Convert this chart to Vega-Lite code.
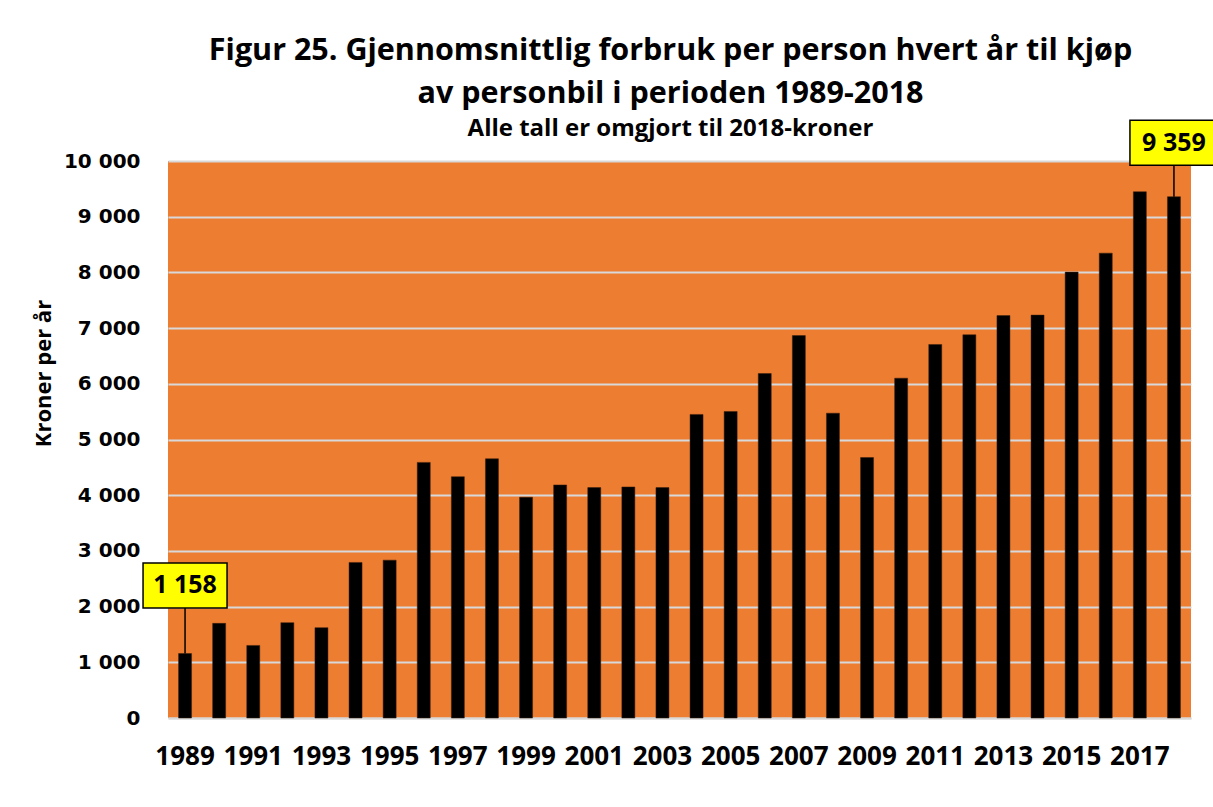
{
  "$schema": "https://vega.github.io/schema/vega-lite/v6.json",
  "autosize": {"type": "none"},
  "width": 1023,
  "height": 557,
  "padding": {"left": 168, "top": 161, "right": 22, "bottom": 89},
  "background": "white",
  "title": {
    "text": ["Figur 25. Gjennomsnittlig forbruk per person hvert år til kjøp", "av personbil i perioden 1989-2018"],
    "subtitle": "Alle tall er omgjort til 2018-kroner",
    "font": "Open Sans",
    "fontSize": 30.5,
    "fontWeight": "bold",
    "lineHeight": 43,
    "color": "black",
    "subtitleFont": "Open Sans",
    "subtitleFontSize": 24,
    "subtitleFontWeight": "bold",
    "subtitleColor": "black",
    "subtitlePadding": 8,
    "anchor": "middle",
    "frame": "group",
    "offset": -24,
    "dx": -9
  },
  "data": {
    "values": [
      {"year": "1989", "value": 1158},
      {"year": "1990", "value": 1699},
      {"year": "1991", "value": 1303},
      {"year": "1992", "value": 1712},
      {"year": "1993", "value": 1622},
      {"year": "1994", "value": 2793},
      {"year": "1995", "value": 2834},
      {"year": "1996", "value": 4589},
      {"year": "1997", "value": 4332},
      {"year": "1998", "value": 4654},
      {"year": "1999", "value": 3964},
      {"year": "2000", "value": 4184},
      {"year": "2001", "value": 4136},
      {"year": "2002", "value": 4148},
      {"year": "2003", "value": 4136},
      {"year": "2004", "value": 5450},
      {"year": "2005", "value": 5503},
      {"year": "2006", "value": 6185},
      {"year": "2007", "value": 6865},
      {"year": "2008", "value": 5472},
      {"year": "2009", "value": 4677},
      {"year": "2010", "value": 6101},
      {"year": "2011", "value": 6706},
      {"year": "2012", "value": 6880},
      {"year": "2013", "value": 7225},
      {"year": "2014", "value": 7233},
      {"year": "2015", "value": 8005},
      {"year": "2016", "value": 8346},
      {"year": "2017", "value": 9448},
      {"year": "2018", "value": 9359}
    ]
  },
  "encoding": {
    "x": {
      "field": "year",
      "type": "ordinal",
      "scale": {"paddingInner": 0, "paddingOuter": 0},
      "axis": {
        "title": null,
        "values": ["1989","1991","1993","1995","1997","1999","2001","2003","2005","2007","2009","2011","2013","2015","2017"],
        "labelAngle": 0,
        "labelFont": "Open Sans",
        "labelFontSize": 26,
        "labelFontWeight": "bold",
        "labelColor": "black",
        "labelPadding": 25,
        "labelBaseline": "top",
        "ticks": false,
        "domain": true,
        "domainColor": "#d9d9d9",
        "domainWidth": 2,
        "labelOverlap": false
      }
    },
    "y": {
      "field": "value",
      "type": "quantitative",
      "scale": {"domain": [0, 10000], "nice": false},
      "axis": {
        "title": "Kroner per år",
        "titleFont": "Open Sans",
        "titleFontSize": 22,
        "titleFontWeight": "bold",
        "titleColor": "black",
        "titleX": -125,
        "titleY": 212,
        "titleAngle": -90,
        "titleAlign": "center",
        "titleBaseline": "middle",
        "values": [0,1000,2000,3000,4000,5000,6000,7000,8000,9000,10000],
        "labelExpr": "replace(format(datum.value, ','), ',', ' ')",
        "labelFont": "DejaVu Sans",
        "labelFontSize": 20,
        "labelFontWeight": "bold",
        "labelColor": "black",
        "labelPadding": 28,
        "ticks": false,
        "domain": false,
        "grid": true,
        "gridColor": "#d9d9d9",
        "gridWidth": 2
      }
    }
  },
  "layer": [
    {
      "mark": {"type": "bar", "width": 13, "color": "black", "stroke": "#3a2010", "strokeWidth": 0.5}
    },
    {
      "transform": [
        {"filter": "datum.year == '1989'"},
        {"calculate": "replace(format(datum.value, ','), ',', ' ')", "as": "label"}
      ],
      "layer": [
        {
          "mark": {"type": "rule", "color": "black", "strokeWidth": 1.5, "y2Offset": -45.5},
          "encoding": {"y2": {"field": "value"}}
        },
        {
          "mark": {"type": "point", "shape": "M-1,-0.536H1V0.536H-1Z", "size": 7056, "filled": true, "fill": "#ffff00", "stroke": "black", "strokeWidth": 1.5, "opacity": 1, "yOffset": -68}
        },
        {
          "mark": {"type": "text", "font": "Open Sans", "fontSize": 25, "fontWeight": "bold", "color": "black", "baseline": "middle", "align": "center", "yOffset": -68},
          "encoding": {"text": {"field": "label"}}
        }
      ]
    },
    {
      "transform": [
        {"filter": "datum.year == '2018'"},
        {"calculate": "replace(format(datum.value, ','), ',', ' ')", "as": "label"}
      ],
      "layer": [
        {
          "mark": {"type": "rule", "color": "black", "strokeWidth": 1.5, "y2Offset": -32},
          "encoding": {"y2": {"field": "value"}}
        },
        {
          "mark": {"type": "point", "shape": "M-1,-0.536H1V0.536H-1Z", "size": 7056, "filled": true, "fill": "#ffff00", "stroke": "black", "strokeWidth": 1.5, "opacity": 1, "yOffset": -54, "xOffset": -2}
        },
        {
          "mark": {"type": "text", "font": "Open Sans", "fontSize": 25, "fontWeight": "bold", "color": "black", "baseline": "middle", "align": "center", "yOffset": -54},
          "encoding": {"text": {"field": "label"}}
        }
      ]
    }
  ],
  "config": {
    "view": {"fill": "#ed7d31", "stroke": null},
    "axis": {"gridOpacity": 1}
  }
}
